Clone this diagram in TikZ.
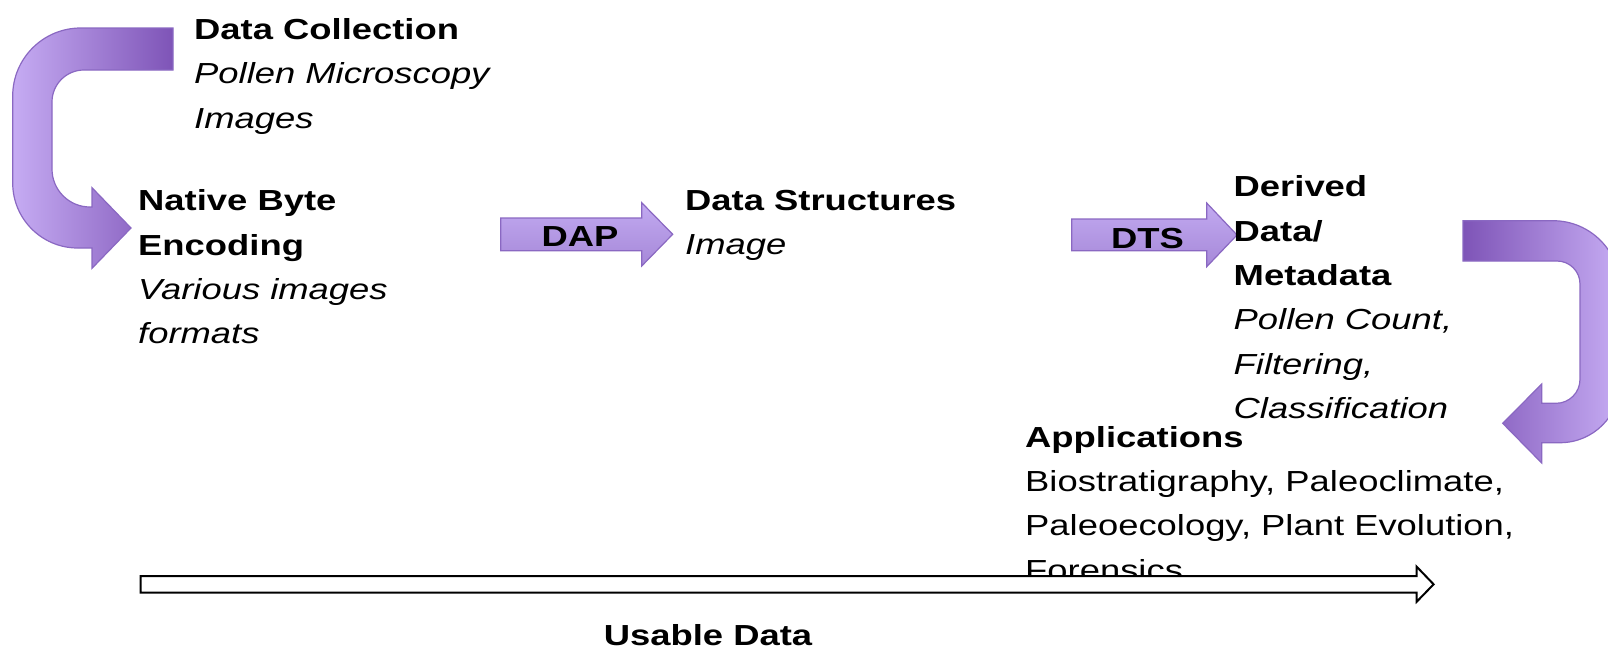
\documentclass[tikz,border=0pt]{standalone}
\usepackage{fontspec}
\setmainfont{Liberation Sans}[FakeStretch=1.255]
\definecolor{lav}{RGB}{198,172,243}
\definecolor{plum}{RGB}{126,84,183}
\definecolor{edgep}{RGB}{138,104,194}
\definecolor{atop}{RGB}{194,170,241}
\definecolor{abot}{RGB}{166,136,216}
\tikzset{
  txt/.style={inner sep=0pt, anchor=base west, align=left, font=\fontsize{29}{44.4}\selectfont},
  lbl/.style={inner sep=0pt, anchor=base, font=\fontsize{29}{44.4}\selectfont\bfseries},
  curvearrow/.style={draw=edgep, line width=1.2pt},
  flatarrow/.style={draw=edgep, line width=1.2pt, top color=atop, bottom color=abot},
  usablearrow/.style={draw=black, line width=2pt, fill=white},
}
\begin{document}
\begin{tikzpicture}[x=1pt,y=-1pt]
\useasboundingbox (0,0) rectangle (1608,649);
% top-left U-turn arrow
\path[curvearrow, left color=lav, right color=plum]
  (173,28) -- (80.7,28) arc[start angle=270,end angle=180,radius=68]
  -- (12.7,183) arc[start angle=180,end angle=90,radius=65]
  -- (92,248) -- (92,268.3) -- (131,228) -- (92,187.7) -- (92,207)
  -- (90,207) arc[start angle=90,end angle=180,radius=38]
  -- (52,102) arc[start angle=180,end angle=270,radius=32]
  -- (173,70) -- cycle;
% right U-turn arrow
\path[curvearrow, left color=plum, right color=lav]
  (1463,220.7) -- (1553,220.7) arc[start angle=270,end angle=360,radius=67]
  -- (1620,382.7) arc[start angle=0,end angle=90,radius=60]
  -- (1541.7,442.7) -- (1541.7,463) -- (1502.7,423.3) -- (1541.7,384) -- (1541.7,403.3)
  -- (1556,403.3) arc[start angle=90,end angle=0,radius=24]
  -- (1580,284) arc[start angle=0,end angle=-90,radius=23]
  -- (1463,261) -- cycle;
% DAP arrow
\path[flatarrow] (500.7,218) -- (641.7,218) -- (641.7,202.7) -- (672.7,234.3)
  -- (641.7,266) -- (641.7,250.7) -- (500.7,250.7) -- cycle;
\node[lbl] (dap) at (580,246.7) {DAP};
% DTS arrow
\path[flatarrow] (1071.7,219) -- (1206.7,219) -- (1206.7,203) -- (1237,235)
  -- (1206.7,266.7) -- (1206.7,250.7) -- (1071.7,250.7) -- cycle;
\node[lbl] (dts) at (1147.5,248) {DTS};
% text blocks (base anchor = baseline of last line)
\node[txt] (dc) at (194,128.1) {\textbf{Data Collection}\\\textit{Pollen Microscopy}\\\textit{Images}};
\node[txt] (nb) at (138,343.9) {\textbf{Native Byte}\\\textbf{Encoding}\\\textit{Various images}\\\textit{formats}};
\node[txt] (ds) at (685,254.9) {\textbf{Data Structures}\\\textit{Image}};
\node[txt] (dd) at (1233.5,418.7) {\textbf{Derived}\\\textbf{Data/}\\\textbf{Metadata}\\\textit{Pollen Count,}\\\textit{Filtering,}\\\textit{Classification}};
\node[txt] (app) at (1025,580.2) {\textbf{Applications}\\Biostratigraphy, Paleoclimate,\\Paleoecology, Plant Evolution,\\Forensics};
% usable data arrow
\path[usablearrow] (140.7,576) -- (1416.7,576) -- (1416.7,566.7) -- (1433.6,584.3)
  -- (1416.7,601.7) -- (1416.7,592.7) -- (140.7,592.7) -- cycle;
\node[lbl] (ud) at (708,645) {Usable Data};
\end{tikzpicture}
\end{document}
